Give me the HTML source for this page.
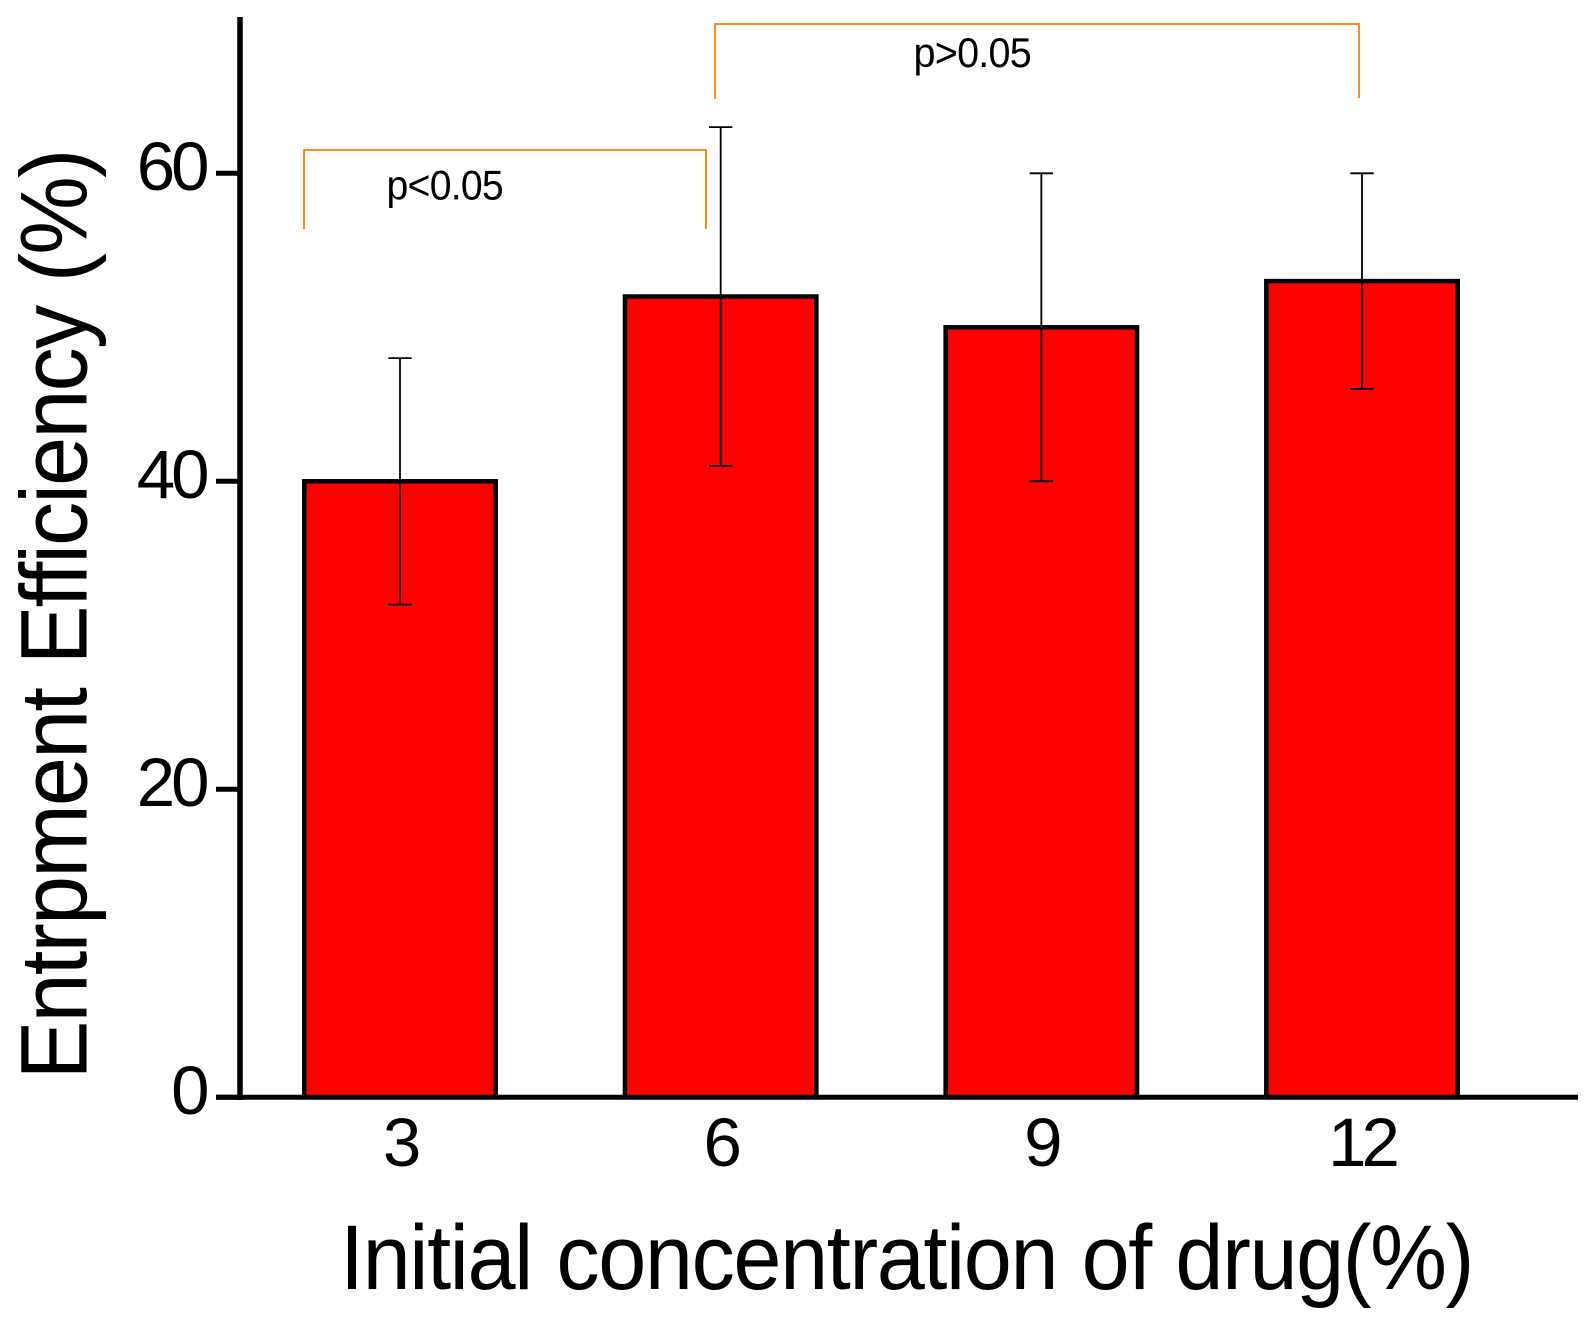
<!DOCTYPE html>
<html lang="en">
<head>
<meta charset="utf-8">
<title>Entrapment efficiency bar chart</title>
<style>
html,body{margin:0;padding:0;background:#fff;}
svg{display:block;}
text{font-family:"Liberation Sans",Arial,sans-serif;fill:#000;}
</style>
</head>
<body>
<svg id="chart" xmlns="http://www.w3.org/2000/svg" width="1589" height="1323" viewBox="0 0 1589 1323">
  <rect x="0" y="0" width="1589" height="1323" fill="#ffffff"/>
  <g id="bars"></g>
  <g id="errors"></g>
  <g id="axes"></g>
  <path d="M304 229V150H706V229" fill="none" stroke="#ff8000" stroke-width="1.8"/>
  <path d="M715 99V24H1359V98" fill="none" stroke="#ff8000" stroke-width="1.8"/>
  <text x="386.5" y="199.5" font-size="42" letter-spacing="-0.8" textLength="116.5" lengthAdjust="spacingAndGlyphs">p&lt;0.05</text>
  <text x="913.5" y="67" font-size="42" letter-spacing="-0.8" textLength="117.5" lengthAdjust="spacingAndGlyphs">p&gt;0.05</text>
  <text transform="translate(86.5,1079.5) rotate(-90)" x="0" y="0" font-size="95" letter-spacing="-2" word-spacing="2" textLength="929" lengthAdjust="spacingAndGlyphs">Entrpment Efficiency (%)</text>
  <text x="340" y="1289" font-size="92" letter-spacing="-1.5" word-spacing="2" textLength="1133" lengthAdjust="spacingAndGlyphs">Initial concentration of drug(%)</text>
</svg>
<script>
const categories = ['3', '6', '9', '12'];
const means = [40, 52, 50, 53];
const errorHigh = [48, 63, 60, 60];
const errorLow = [32, 41, 40, 46];
const yTicks = [0, 20, 40, 60];

const svgNS = 'http://www.w3.org/2000/svg';
const barsGroup = document.getElementById('bars');
const errorsGroup = document.getElementById('errors');
const axesGroup = document.getElementById('axes');

function xScale(i) { return 400 + 320.67 * i; }
function yScale(v) { return 1097.3 - 15.4 * v; }

function make(tag, attrs, parent) {
  const el = document.createElementNS(svgNS, tag);
  for (const k in attrs) el.setAttribute(k, attrs[k]);
  parent.appendChild(el);
  return el;
}

categories.forEach(function (cat, i) {
  const cx = xScale(i);
  const bar = make('rect', {
    x: cx - 95.7, y: yScale(means[i]), width: 191.4,
    height: yScale(0) - yScale(means[i]),
    fill: '#ff0000', stroke: '#000', 'stroke-width': 4.5
  }, barsGroup);
  
  

  const err = make('path', {
    d: 'M' + cx + ' ' + yScale(errorHigh[i]) + 'V' + yScale(errorLow[i]) +
       'M' + (cx - 11.7) + ' ' + yScale(errorHigh[i]) + 'H' + (cx + 11.7) +
       'M' + (cx - 11.7) + ' ' + yScale(errorLow[i]) + 'H' + (cx + 11.7),
    fill: 'none', stroke: '#000', 'stroke-width': 1.8
  }, errorsGroup);
  
  

  const label = make('text', {
    x: cx + (cat.length > 1 ? -0.5 : 2), y: 1166, 'font-size': 69, 'text-anchor': 'middle',
    'letter-spacing': cat.length > 1 ? -5 : 0
  }, axesGroup);
  label.textContent = cat;
  
  
});

const yAxisLine = make('line', { x1: 240, y1: 17, x2: 240, y2: 1100, stroke: '#000', 'stroke-width': 5.5 }, axesGroup);



const xAxisLine = make('line', { x1: 216, y1: yScale(0), x2: 1578, y2: yScale(0), stroke: '#000', 'stroke-width': 5 }, axesGroup);



yTicks.forEach(function (t) {
  const tick = make('line', { x1: 216, y1: yScale(t), x2: 240, y2: yScale(t), stroke: '#000', 'stroke-width': 5 }, axesGroup);
  
  

  const label = make('text', {
    x: 205.5, y: yScale(t) + 16.5, 'font-size': 69, 'text-anchor': 'end', 'letter-spacing': -4
  }, axesGroup);
  label.textContent = String(t);
  
  
});
</script>
</body>
</html>
